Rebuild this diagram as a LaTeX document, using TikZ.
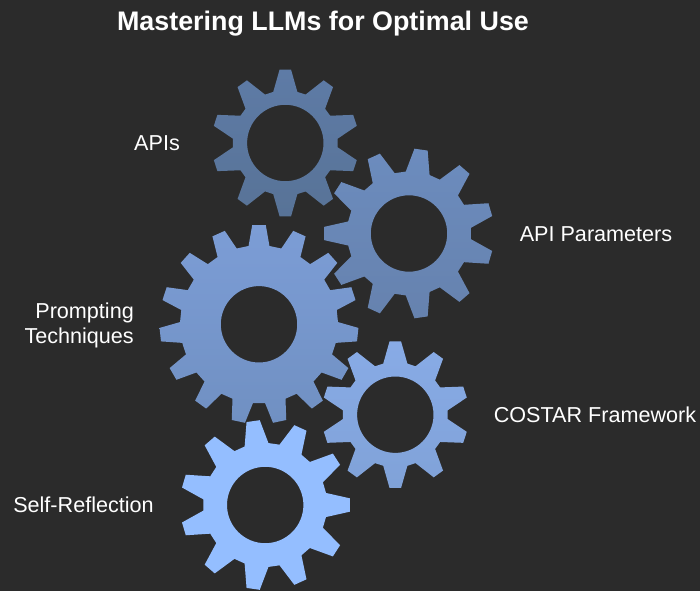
\documentclass[tikz,border=0pt]{standalone}
\usepackage{fontspec}
\setmainfont{Liberation Sans}
\usetikzlibrary{positioning}

\definecolor{panel}{HTML}{2B2B2B}

% teeth are drawn one by one, the hole comes from the even odd rule
\newcommand{\gear}[7]{%
  \pgfmathsetmacro{\pitch}{360/#2}
  \path[#1, even odd rule] ({#3-#7}:#5)
    \foreach \k in {1,...,#2}{
      -- ({#3+\pitch*(\k-1)-#7}:#5)
      -- ({#3+\pitch*(\k-1)-#6}:#4)
      -- ({#3+\pitch*(\k-1)+#6}:#4)
      -- ({#3+\pitch*(\k-1)+#7}:#5)
    } -- cycle
    (0,0) circle (38.2);
}

\begin{document}
\begin{tikzpicture}[
  x=1pt, y=1pt,
  label/.style={text=white, font=\fontsize{21.6}{25}\selectfont, inner sep=0pt},
  heading/.style={text=white, font=\bfseries\fontsize{26.85}{30}\selectfont, inner sep=0pt},
  gearA/.style={top color=gearAt, bottom color=gearAb},
  gearB/.style={top color=gearBt, bottom color=gearBb},
  gearC/.style={top color=gearCt, bottom color=gearCb},
  gearD/.style={top color=gearDt, bottom color=gearDb},
  gearE/.style={fill=gearEt}
]
  \definecolor{gearAt}{HTML}{5E7BA6}
  \definecolor{gearAb}{HTML}{587397}
  \definecolor{gearBt}{HTML}{6C8CBE}
  \definecolor{gearBb}{HTML}{6682AE}
  \definecolor{gearCt}{HTML}{7C9DD6}
  \definecolor{gearCb}{HTML}{7090C2}
  \definecolor{gearDt}{HTML}{88ABE6}
  \definecolor{gearDb}{HTML}{80A2D8}
  \definecolor{gearEt}{HTML}{94BEFF}

  \fill[panel] (0,0) rectangle (700,591);
  \useasboundingbox (0,0) rectangle (700,591);

  % Top gear
  \begin{scope}[shift={(285.3,448)}]
    \gear{gearA}{10}{90}{73.5}{52.5}{4.5}{13.3}
  \end{scope}

  % Right gear
  \begin{scope}[shift={(409,357.5)}]
    \gear{gearB}{11}{180}{85}{62}{4.5}{11.2}
  \end{scope}

  % Large gear
  \begin{scope}[shift={(259,266.7)}]
    \gear{gearC}{15}{90}{99.5}{79}{3.9}{7.6}
  \end{scope}

  % Small gear
  \begin{scope}[shift={(395.3,176.3)}]
    \gear{gearD}{10}{90}{73.5}{52.5}{4.5}{13.3}
  \end{scope}

  % Bottom gear
  \begin{scope}[shift={(265.2,86)}]
    \gear{gearE}{11}{0}{85}{62}{4.5}{11.2}
  \end{scope}

  \node[heading] (title) at (323,567.5) {Mastering LLMs for Optimal Use};
  \node[label] (apis) at (157,447.5) {APIs};
  \node[label] (params) at (596,356.5) {API Parameters};
  \node[label, align=right, anchor=east] (prompting) at (134,265.5) {Prompting\\Techniques};
  \node[label] (costar) at (595,176.5) {COSTAR Framework};
  \node[label] (reflect) at (83.5,86) {Self-Reflection};
\end{tikzpicture}
\end{document}
